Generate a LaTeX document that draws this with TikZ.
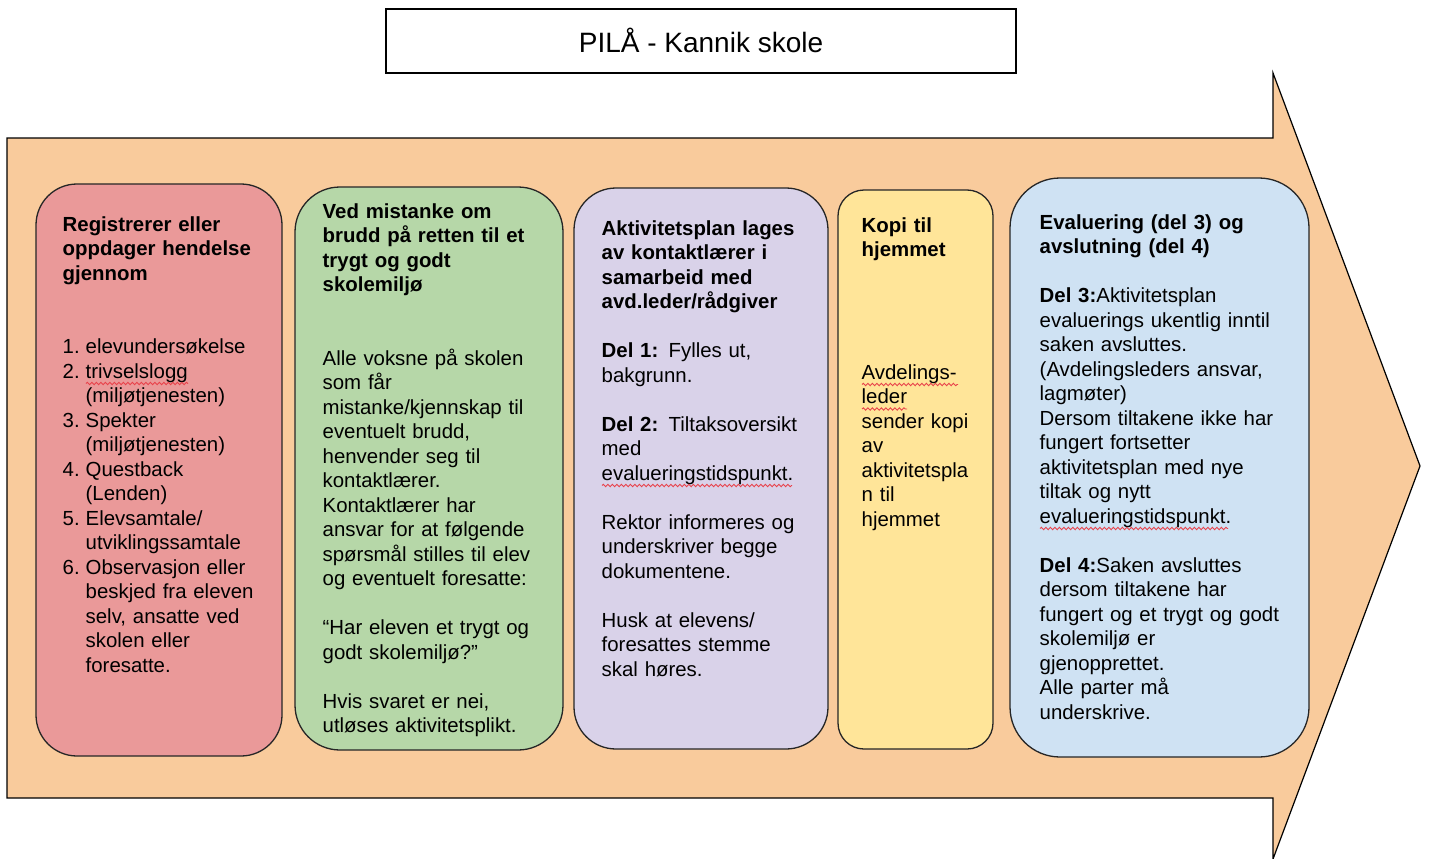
\documentclass[tikz,border=0pt]{standalone}
\usepackage{fontspec}
\setmainfont{Liberation Sans}
\usepackage{tikz}
\usetikzlibrary{decorations.pathmorphing}

\definecolor{arrowfill}{HTML}{F9CB9C}
\definecolor{cardred}{HTML}{EA9999}
\definecolor{cardgreen}{HTML}{B6D7A8}
\definecolor{cardpurple}{HTML}{D9D2E9}
\definecolor{cardyellow}{HTML}{FFE599}
\definecolor{cardblue}{HTML}{CFE2F3}
\definecolor{spellred}{HTML}{E8414A}

\newcommand\listno[1]{\makebox[23pt][l]{#1}}
\newcommand\listgap{\hspace*{23pt}}

\begin{document}
\begin{tikzpicture}[x=1pt,y=-1pt,
  titlebox/.style={draw=black,line width=1.6pt,inner sep=0pt,
    font=\fontsize{28}{32}\selectfont},
  card/.style={draw=black!85,line width=1.3pt,inner sep=0pt},
  cardtext/.style={anchor=base west,align=left,inner sep=0pt,
    text width=300pt,font=\fontsize{20.4}{24.5}\selectfont},
  spellline/.style={draw=spellred,line width=0.9pt,decorate,
    decoration={snake,amplitude=1.2pt,segment length=4.5pt}}]
  \useasboundingbox (0,0) rectangle (1429,859);

  % the big arrow behind the steps
  \draw[fill=arrowfill,line width=1.2pt,line join=miter]
    (7,138) -- (1273,138) -- (1273,73) -- (1420,466)
    -- (1273,859) -- (1273,798) -- (7,798) -- cycle;

  \node[titlebox,minimum width=630pt,minimum height=64pt]
    (title) at (701,41) {\raisebox{2pt}{PILÅ - Kannik skole}};

  % the five steps
  \node[card,fill=cardred,rounded corners=41pt,
    minimum width=246pt,minimum height=572pt] (register) at (159,470) {};
  \node[card,fill=cardgreen,rounded corners=45pt,
    minimum width=268pt,minimum height=563pt] (suspect) at (429,468.5) {};
  \node[card,fill=cardpurple,rounded corners=42pt,
    minimum width=254pt,minimum height=561pt] (plan) at (701,468.5) {};
  \node[card,fill=cardyellow,rounded corners=26pt,
    minimum width=155pt,minimum height=559pt] (copy) at (915.5,469.5) {};
  \node[card,fill=cardblue,rounded corners=50pt,
    minimum width=299pt,minimum height=579pt] (evaluate) at (1159.5,467.5) {};

  \node[cardtext] (registertext) at (62.5,231) {%
    \textbf{Registrerer eller}\\
    \textbf{oppdager hendelse}\\
    \textbf{gjennom}\\[49pt]
    \listno{1.}elevundersøkelse\\
    \listno{2.}trivselslogg\\
    \listgap(miljøtjenesten)\\
    \listno{3.}Spekter\\
    \listgap(miljøtjenesten)\\
    \listno{4.}Questback\\
    \listgap(Lenden)\\
    \listno{5.}Elevsamtale/\\
    \listgap utviklingssamtale\\
    \listno{6.}Observasjon eller\\
    \listgap beskjed fra eleven\\
    \listgap selv, ansatte ved\\
    \listgap skolen eller\\
    \listgap foresatte.};

  \node[cardtext] (suspecttext) at (322.5,218) {%
    \textbf{Ved mistanke om}\\
    \textbf{brudd på retten til et}\\
    \textbf{trygt og godt}\\
    \textbf{skolemiljø}\\[49pt]
    Alle voksne på skolen\\
    som får\\
    mistanke/kjennskap til\\
    eventuelt brudd,\\
    henvender seg til\\
    kontaktlærer.\\
    Kontaktlærer har\\
    ansvar for at følgende\\
    spørsmål stilles til elev\\
    og eventuelt foresatte:\\[24.5pt]
    “Har eleven et trygt og\\
    godt skolemiljø?”\\[24.5pt]
    Hvis svaret er nei,\\
    utløses aktivitetsplikt.};

  \node[cardtext] (plantext) at (601.5,235) {%
    \textbf{Aktivitetsplan lages}\\
    \textbf{av kontaktlærer i}\\
    \textbf{samarbeid med}\\
    \textbf{avd.leder/rådgiver}\\[24.5pt]
    \textbf{Del 1:} Fylles ut,\\
    bakgrunn.\\[24.5pt]
    \textbf{Del 2:} Tiltaksoversikt\\
    med\\
    evalueringstidspunkt.\\[24.5pt]
    Rektor informeres og\\
    underskriver begge\\
    dokumentene.\\[24.5pt]
    Husk at elevens/\\
    foresattes stemme\\
    skal høres.};

  \node[cardtext] (copytext) at (861.5,232) {%
    \textbf{Kopi til}\\
    \textbf{hjemmet}\\[98pt]
    Avdelings-\\
    leder\\
    sender kopi\\
    av\\
    aktivitetspla\\
    n til\\
    hjemmet};

  \node[cardtext] (evaluatetext) at (1039.5,229) {%
    \textbf{Evaluering (del 3) og}\\
    \textbf{avslutning (del 4)}\\[24.5pt]
    \textbf{Del 3:}Aktivitetsplan\\
    evaluerings ukentlig inntil\\
    saken avsluttes.\\
    (Avdelingsleders ansvar,\\
    lagmøter)\\
    Dersom tiltakene ikke har\\
    fungert fortsetter\\
    aktivitetsplan med nye\\
    tiltak og nytt\\
    evalueringstidspunkt.\\[24.5pt]
    \textbf{Del 4:}Saken avsluttes\\
    dersom tiltakene har\\
    fungert og et trygt og godt\\
    skolemiljø er\\
    gjenopprettet.\\
    Alle parter må\\
    underskrive.};

  % spell-check marks
  \draw[spellline] (86,383.5) -- (188,383.5);
  \draw[spellline] (602,485.5) -- (792,485.5);
  \draw[spellline] (862,384.5) -- (958,384.5);
  \draw[spellline] (862,409) -- (907,409);
  \draw[spellline] (1040,528.5) -- (1228,528.5);
\end{tikzpicture}
\end{document}
